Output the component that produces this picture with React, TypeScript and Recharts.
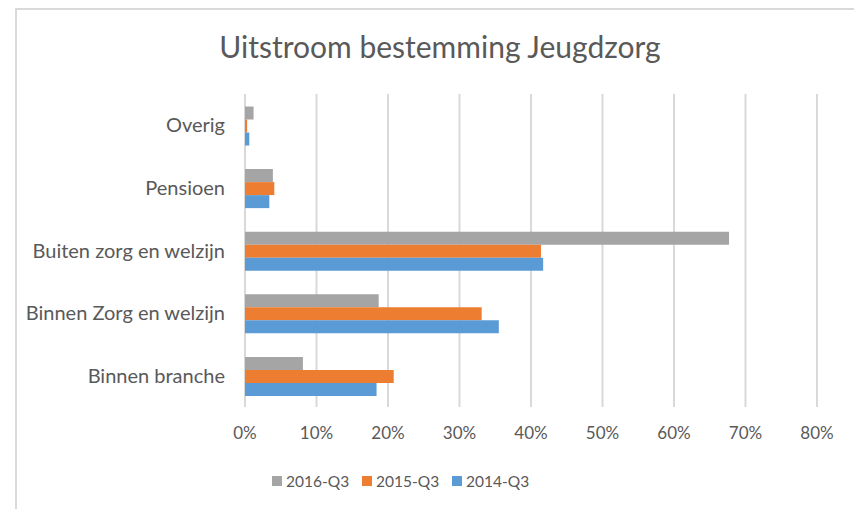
import { BarChart, Bar, XAxis, YAxis, CartesianGrid, Legend } from 'recharts'

const categories = ['Overig', 'Pensioen', 'Buiten zorg en welzijn', 'Binnen Zorg en welzijn', 'Binnen branche']
const seriesNames = ['2016-Q3', '2015-Q3', '2014-Q3']
const q2016 = [1.2, 3.9, 67.7, 18.7, 8.1]
const q2015 = [0.3, 4.1, 41.4, 33.1, 20.8]
const q2014 = [0.6, 3.4, 41.7, 35.5, 18.4]
const xTicks = [0, 10, 20, 30, 40, 50, 60, 70, 80]

const FONT = 'Lato, "Open Sans", sans-serif'
const TEXT = '#595959'

const data = categories.map((name, i) => ({
  name,
  '2016-Q3': q2016[i],
  '2015-Q3': q2015[i],
  '2014-Q3': q2014[i],
}))

function LegendContent({ payload }: any) {
  // keep the legend in series order (vertical layout flips it)
  const items = seriesNames
    .map((n) => (payload || []).find((p: any) => p.value === n))
    .filter(Boolean)
  return (
    <div style={{ display: 'flex', marginLeft: 272, fontFamily: FONT, fontSize: 15.5, color: TEXT }}>
      {items.map((p: any) => (
        <div key={p.value} style={{ display: 'flex', alignItems: 'center', width: 90 }}>
          <span style={{ width: 10, height: 10, background: p.color, marginRight: 4, display: 'inline-block' }} />
          <span>{p.value}</span>
        </div>
      ))}
    </div>
  )
}

export default function App() {
  return (
    <div style={{ position: 'relative', width: 854, height: 509, background: '#fff' }}>
      <style>{'body{margin:0;overflow:hidden}'}</style>
      <div
        style={{
          position: 'absolute', left: 15, top: 8, width: 900, height: 600,
          borderTop: '2px solid #d9d9d9', borderLeft: '2px solid #d9d9d9',
        }}
      />
      <div
        style={{
          position: 'absolute', left: 20, width: 840, top: 28, textAlign: 'center',
          fontFamily: FONT, fontSize: 30, color: TEXT,
        }}
      >
        Uitstroom bestemming Jeugdzorg
      </div>
      <BarChart
        width={854}
        height={509}
        data={data}
        layout="vertical"
        margin={{ top: 94, right: 37, left: 0, bottom: 0 }}
        barGap={0}
        barCategoryGap="20%"
        style={{ position: 'absolute', left: 0, top: 0 }}
      >
        <CartesianGrid horizontal={false} stroke="#d9d9d9" strokeWidth={2} />
        <XAxis
          type="number"
          domain={[0, 80]}
          ticks={xTicks}
          tickFormatter={(v) => `${v}%`}
          axisLine={false}
          tickLine={false}
          tickSize={6}
          tickMargin={14}
          height={40}
          tick={{ fill: TEXT, fontSize: 17, fontFamily: FONT }}
        />
        <YAxis
          type="category"
          dataKey="name"
          width={245}
          axisLine={false}
          tickLine={false}
          tickSize={6}
          tickMargin={14}
          tick={{ fill: TEXT, fontSize: 20, fontFamily: FONT }}
        />
        <Legend verticalAlign="bottom" height={62} wrapperStyle={{ top: 472, left: 0, width: 854 }} content={<LegendContent />} />
        <Bar dataKey="2016-Q3" fill="#a5a5a5" isAnimationActive={false} />
        <Bar dataKey="2015-Q3" fill="#ed7d31" isAnimationActive={false} />
        <Bar dataKey="2014-Q3" fill="#5b9bd5" isAnimationActive={false} />
      </BarChart>
    </div>
  )
}
